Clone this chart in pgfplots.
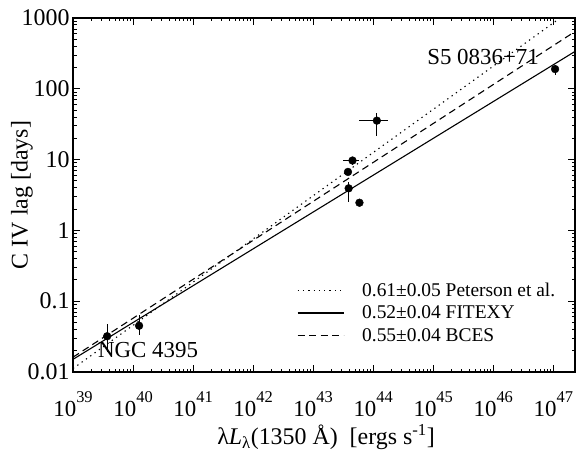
\documentclass[border=0pt]{standalone}
\usepackage{fontspec}
\setmainfont{Liberation Serif}
\usepackage{pgfplots}
\pgfplotsset{compat=1.18}

% "10" with a raised exponent, set in the text font
\newcommand{\tk}[1]{10\raisebox{0.6em}{\fontsize{16.5}{16.5}\selectfont #1}}

\begin{document}
\begin{tikzpicture}
  \begin{axis}[
    xmode=log, ymode=log,
    scale only axis,
    width=502bp, height=354bp,
    xmin=1e39, xmax=2.3e47,
    ymin=0.01, ymax=1000,
    axis line style={line width=1.3bp},
    every tick/.style={black, line width=0.9bp},
    major tick length=7bp,
    minor tick length=3.5bp,
    xtick={1e39,1e40,1e41,1e42,1e43,1e44,1e45,1e46,1e47},
    xticklabels={\tk{39},\tk{40},\tk{41},\tk{42},\tk{43},\tk{44},\tk{45},\tk{46},\tk{47}},
    ytick={0.01,0.1,1,10,100,1000},
    yticklabels={0.01,0.1,1,10,100,1000},
    xticklabel style={font=\fontsize{23}{25}\selectfont, yshift=-16bp},
    yticklabel style={font=\fontsize{24}{26}\selectfont},
    xlabel={λ\textit{L}\textsubscript{λ}(1350 Å)\ \ [ergs s\textsuperscript{-1}]},
    ylabel={C IV lag [days]},
    label style={font=\fontsize{24}{26}\selectfont},
    xlabel style={at={(axis description cs:0.504,-0.184)}, anchor=center},
    ylabel style={at={(axis description cs:-0.1016,0.5)}, anchor=center},
    legend style={draw=none, fill=none, at={(axis description cs:0.446,0.258)},
      anchor=north west, font=\fontsize{19.5}{21}\selectfont,
      row sep=4bp, inner sep=0bp},
    legend cell align=left,
    legend image code/.code={\draw[#1] (0bp,0bp) -- (46bp,0bp); \path (62bp,0bp);},
  ]

  %% measurements with error bars
  \addplot[only marks, mark=*, mark size=3.9bp, black, forget plot,
    error bars/.cd, x dir=both, x explicit, y dir=both, y explicit,
    error mark=none, error bar style={line width=1.1bp}]
  coordinates {
    (3.7e39,0.032)  += (0,0.016)    -= (0,0.013)
    (1.26e40,0.045) += (0,0.019)    -= (0,0.012)
    (1.15e44,35.5)  += (5.9e43,10.5) -= (5.6e43,14)
    (4.52e43,9.7)   += (1.37e43,1.3) -= (1.43e43,1.3)
    (3.8e43,6.7)    += (0,0)        -= (0,0)
    (3.9e43,3.93)   += (0.5e43,0.94) -= (0.5e43,1.39)
    (5.9e43,2.46)   += (0,0)        -= (0,0)
    (1.07e47,190)   += (0,27)       -= (0,33)
  };

  %% fits
  \addplot[black, line width=1.1bp, dash pattern=on 1.3bp off 4bp]
    coordinates {(1e39,0.0112) (2.51e47,1493)};
  \addlegendentry{0.61±0.05 Peterson et al.}
  \addplot[black, line width=1.1bp]
    coordinates {(1e39,0.0151) (2.51e47,353)};
  \addlegendentry{0.52±0.04 FITEXY}
  \addplot[black, line width=1.1bp, dash pattern=on 7bp off 4.5bp]
    coordinates {(1e39,0.0162) (2.51e47,676)};
  \addlegendentry{0.55±0.04 BCES}

  \node[font=\fontsize{23}{25}\selectfont] at (axis cs:1.78e40,0.0204) {NGC 4395};
  \node[font=\fontsize{23}{25}\selectfont] at (axis cs:6.76e45,282) {S5 0836+71};

  \coordinate (bl) at (rel axis cs:0,0);
  \coordinate (tr) at (rel axis cs:1,1);
  \end{axis}
  \pgfresetboundingbox
  \path ([xshift=-73bp,yshift=-79bp]bl) rectangle ([xshift=1bp,yshift=18bp]tr);
\end{tikzpicture}
\end{document}
